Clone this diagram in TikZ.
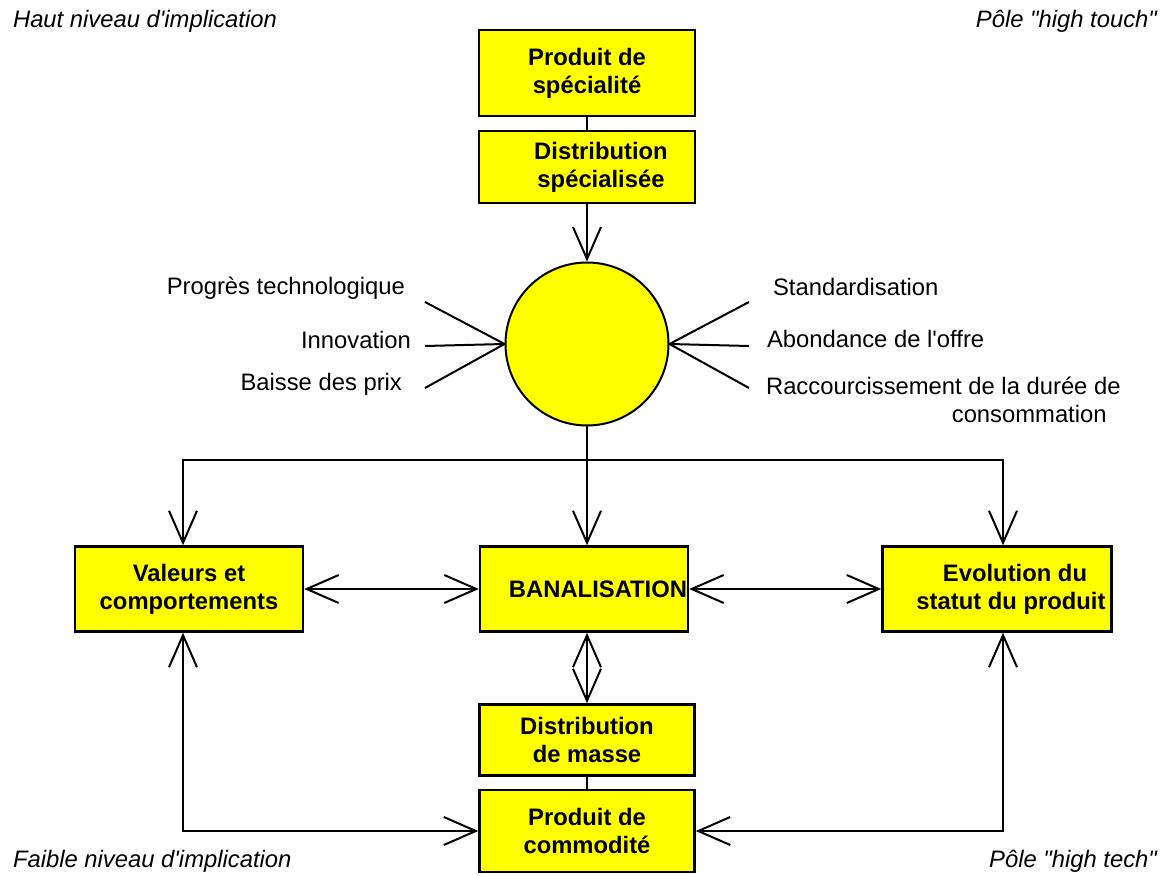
\documentclass[tikz,border=0pt]{standalone}
\usepackage{fontspec}
\setmainfont{Liberation Sans}[Ligatures=TeXOff]
\usetikzlibrary{arrows.meta}
\definecolor{jaune}{RGB}{255,255,0}
\begin{document}
\begin{tikzpicture}[x=0.5pt, y=-0.5pt, line join=miter,
		font=\fontsize{11.9}{14}\selectfont,
		bloc/.style={draw, fill=jaune, line width=1.2pt, font=\fontsize{11.9}{14}\selectfont\bfseries, align=center, inner sep=0pt},
		fleche/.style={line width=1pt, -{Straight Barb[length=16pt, width=14pt, line width=1pt]}},
		fleches/.style={line width=1pt, {Straight Barb[length=16pt, width=14pt, line width=1pt]}-{Straight Barb[length=16pt, width=14pt, line width=1pt]}},
		trait/.style={line width=1pt}]
			\useasboundingbox (0,0) rectangle (1172,876);
			
			%
			\coordinate (G1) at (425, 302);
			\coordinate (G2) at (425, 346);
			\coordinate (G3) at (425, 388);
			\coordinate (D1) at (749, 302);
			\coordinate (D2) at (749, 346);
			\coordinate (D3) at (749, 388);
			\coordinate (J) at (587, 460);
			\coordinate (HG) at (183, 460);
			\coordinate (HD) at (1003, 460);
			
			\node[bloc, minimum width=108pt, minimum height=43pt] (spec) at (587, 73) {Produit de\\spécialité};
			\node[bloc, minimum width=108pt, minimum height=36pt] (distspec) at (587, 167) {\hspace*{14pt}Distribution\\\hspace*{14pt}spécialisée};
			\node[draw, fill=jaune, line width=1pt, circle, minimum size=81.5pt, inner sep=0pt] (cercle) at (587, 344) {};
			\node[bloc, minimum width=114pt, minimum height=42.5pt] (valeurs) at (189, 589) {Valeurs et\\comportements};
			\node[bloc, minimum width=104pt, minimum height=42.5pt] (banal) at (584, 589) {\hspace*{14pt}BANALISATION};
			\node[bloc, minimum width=114.5pt, minimum height=42.5pt] (evol) at (997, 589) {\hspace*{18pt}Evolution du\\\hspace*{14pt}statut du produit};
			\node[bloc, minimum width=107.5pt, minimum height=35.5pt] (distmasse) at (587, 740) {Distribution\\de masse};
			\node[bloc, minimum width=107.5pt, minimum height=41pt] (commod) at (587, 831) {Produit de\\commodité};
			
			\node[anchor=east] (progres) at (412, 288) {Progrès technologique};
			\node[anchor=east] (innov) at (418, 340) {Innovation};
			\node[anchor=east] (baisse) at (409, 384) {Baisse des prix};
			\node[anchor=west] (standard) at (766, 287) {Standardisation};
			\node[anchor=west] (abond) at (760, 339) {Abondance de l'offre};
			\node[anchor=north west, align=right] (raccour) at (759, 370) {Raccourcissement de la durée de\\consommation\hspace*{7pt}};
			
			\node[anchor=west, font=\fontsize{11.9}{14}\selectfont\itshape] (hautniv) at (6, 21) {Haut niveau d'implication};
			\node[anchor=east, font=\fontsize{11.9}{14}\selectfont\itshape] (touch) at (1164, 21) {Pôle "high touch"};
			\node[anchor=west, font=\fontsize{11.9}{14}\selectfont\itshape] (faible) at (6, 861) {Faible niveau d'implication};
			\node[anchor=east, font=\fontsize{11.9}{14}\selectfont\itshape] (tech) at (1164, 861) {Pôle "high tech"};
			
			\draw[trait] (spec) -- (distspec);
			\draw[fleche] (distspec) -- (cercle);
			\draw[trait] (G1) -- (cercle.west) (G2) -- (cercle.west) (G3) -- (cercle.west)
			(D1) -- (cercle.east) (D2) -- (cercle.east) (D3) -- (cercle.east);
			
			\draw[trait] (cercle.south) -- (J);
			\draw[fleche] (J) -- (HG) -- (HG |- valeurs.north);
			\draw[fleche] (J) -- (HD) -- (HD |- evol.north);
			\draw[fleche] (J) -- (J |- banal.north);
			
			\draw[fleches] (valeurs.east) -- (banal.west);
			\draw[fleches] (banal.east) -- (evol.west);
			\draw[fleches] (J |- banal.south) -- (distmasse.north);
			\draw[trait] (distmasse) -- (commod);
			\draw[fleches] (HG |- valeurs.south) -- (HG |- commod.west) -- (commod.west);
			\draw[fleches] (HD |- evol.south) -- (HD |- commod.east) -- (commod.east);
	\end{tikzpicture}
\end{document}
